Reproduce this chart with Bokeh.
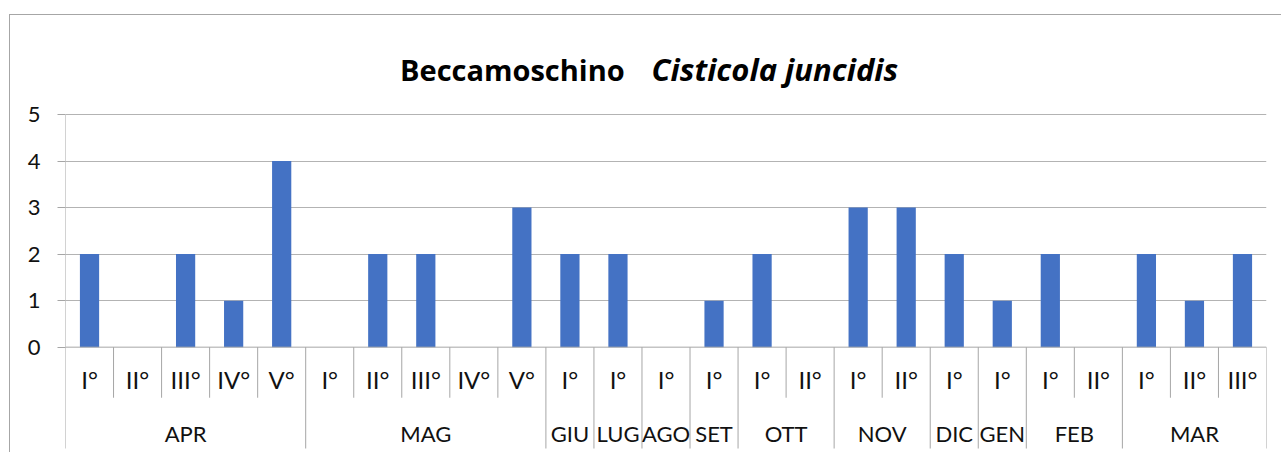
from bokeh.plotting import figure
from bokeh.models import FixedTicker, Range1d
from bokeh.core.properties import value
from bokeh.embed import file_html
from bokeh.resources import INLINE

# ---- data ----
months = ["APR", "MAG", "GIU", "LUG", "AGO", "SET", "OTT", "NOV", "DIC", "GEN", "FEB", "MAR"]
periods = [
    ["I°", "II°", "III°", "IV°", "V°"],
    ["I°", "II°", "III°", "IV°", "V°"],
    ["I°"],
    ["I°"],
    ["I°"],
    ["I°"],
    ["I°", "II°"],
    ["I°", "II°"],
    ["I°"],
    ["I°"],
    ["I°", "II°"],
    ["I°", "II°", "III°"],
]
counts = [
    [2, 0, 2, 1, 4],
    [0, 2, 2, 0, 3],
    [2],
    [2],
    [0],
    [1],
    [2, 0],
    [3, 3],
    [2],
    [1],
    [2, 0],
    [2, 1, 2],
]
y_ticks = [0, 1, 2, 3, 4, 5]
title_main = "Beccamoschino"
title_species = "Cisticola juncidis"

# ---- flatten ----
sub_labels, values, month_centers, group_edges = [], [], [], [0]
pos = 0
for m, subs, vals in zip(months, periods, counts):
    month_centers.append(pos + len(subs) / 2)
    for s, v in zip(subs, vals):
        sub_labels.append(s)
        values.append(v)
        pos += 1
    group_edges.append(pos)
n = len(values)
centers = [i + 0.5 for i in range(n)]
inner_edges = [i for i in range(1, n) if i not in group_edges]

Y0 = -2.178
Y1 = 7.128
FONT = "Lato"
TFONT = "Open Sans"
GRID = "#b3b3b3"
AXIS = "#a6a6a6"

p = figure(
    width=1272, height=438,
    x_range=Range1d(0, n), y_range=Range1d(Y0, Y1),
    output_backend="svg", toolbar_location=None, tools="",
    min_border_left=55, min_border_right=16, min_border_top=0, min_border_bottom=5,
    styles={"border-left": f"1px solid {AXIS}", "border-top": f"1px solid {AXIS}",
            "margin-top": "14px", "margin-left": "9px"},
)
p.outline_line_color = None
p.background_fill_color = "white"
p.border_fill_color = "white"

p.xaxis.visible = False
p.xgrid.visible = False

ya = p.yaxis[0]
ya.ticker = FixedTicker(ticks=y_ticks)
ya.axis_line_color = None
ya.major_tick_line_color = AXIS
ya.major_tick_out = 8
ya.major_tick_in = 0
ya.minor_tick_line_color = None
ya.major_label_standoff = 17
ya.major_label_text_font = FONT
ya.major_label_text_font_size = "22px"
ya.major_label_text_color = "#111111"

p.ygrid.ticker = FixedTicker(ticks=y_ticks[1:])
p.ygrid.grid_line_color = GRID

# bars
p.vbar(x=centers, top=values, width=0.4, fill_color="#4472C4", line_color=None)

# value axis line (from top tick down to bottom of category boxes)
p.segment(x0=[0], y0=[max(y_ticks)], x1=[0], y1=[Y0 - 1], line_color=AXIS, line_width=1)
# category axis line
p.segment(x0=[0], y0=[0], x1=[n], y1=[0], line_color=AXIS, line_width=1)
# separators
p.segment(x0=inner_edges, y0=[0] * len(inner_edges), x1=inner_edges,
          y1=[-1.087] * len(inner_edges), line_color=AXIS, line_width=1)
p.segment(x0=group_edges[1:], y0=[0] * (len(group_edges) - 1), x1=group_edges[1:],
          y1=[Y0 - 1] * (len(group_edges) - 1), line_color=AXIS, line_width=1)

# category labels
p.text(x=centers, y=[-0.694] * n, text=sub_labels, text_font=value(FONT),
       text_font_size=value("24px"), text_align="center", text_baseline="middle",
       text_color="#111111")
p.text(x=month_centers, y=[-1.855] * len(months), text=months, text_font=value(FONT),
       text_font_size=value("22px"), text_align="center", text_baseline="middle",
       text_color="#111111")

# title (bold + bold italic)
p.text(x=[11.64], y=[5.968], text=[title_main], text_font=value(TFONT),
       text_font_style=value("bold"),
       text_font_size=value("29px"), text_align="right", text_baseline="alphabetic",
       text_color="black")
p.text(x=[12.2], y=[5.968], text=[title_species], text_font=value(TFONT),
       text_font_style=value("bold italic"),
       text_font_size=value("31px"), text_align="left", text_baseline="alphabetic",
       text_color="black")

open("out.html", "w").write(file_html(p, INLINE))
